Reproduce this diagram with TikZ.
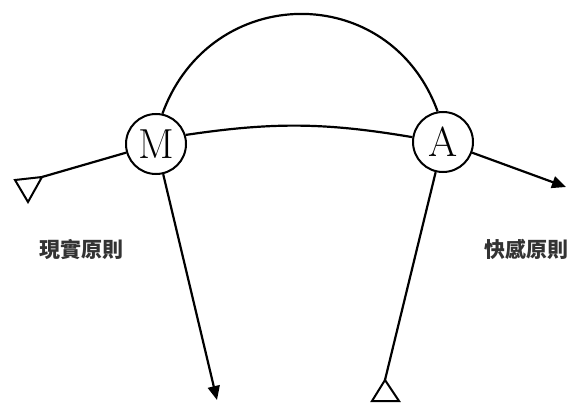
\documentclass[tikz,border=0pt]{standalone}
\usepackage{fontspec}
\newfontfamily\cjkfont{Noto Sans CJK TC}
\usepackage{tikz}
\usetikzlibrary{arrows.meta}

\begin{document}
\begin{tikzpicture}[
  x=1pt, y=1pt,
  >={Triangle[length=14pt,width=12pt]},
  agent/.style={draw, circle, line width=2pt, minimum size=60pt, inner sep=0pt,
    font=\fontsize{42}{42}\selectfont},
  link/.style={line width=2.2pt},
  arrow/.style={link, ->},
  tri/.style={draw, line width=2pt, line join=miter, fill=white},
  principle/.style={font=\cjkfont\bfseries\fontsize{21}{21}\selectfont, text=black!80}
]
\useasboundingbox (0,0) rectangle (572,405);

\node[agent] (M) at (156,261) {M};
\node[agent] (A) at (443,263) {A};

\coordinate (reality) at (42,228);
\coordinate (pleasure) at (566,218);
\coordinate (mout) at (217,5);
\coordinate (ain) at (385,25);

\draw[link] (M.78) .. controls +(70:140) and +(110:140) .. (A.100);
\draw[link] (M.17) to[bend left=9] (A.171);
\draw[link] (reality) -- (M);
\draw[arrow] (A) -- (pleasure);
\draw[arrow] (M) -- (mout);
\draw[link] (A) -- (ain);

% open triangles at the free ends
\draw[tri] (reality) -- ++(-27,-3) -- ++(13,-22) -- cycle;
\draw[tri] (ain) -- ++(-13,-21) -- ++(27,0) -- cycle;

\node[principle] (real) at (81,155) {現實原則};
\node[principle] (plea) at (526,156) {快感原則};
\end{tikzpicture}
\end{document}
